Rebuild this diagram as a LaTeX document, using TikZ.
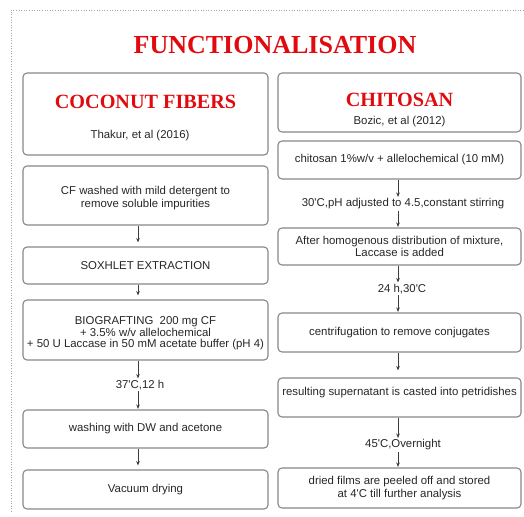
\documentclass[tikz,border=0pt]{standalone}
\usepackage{fontspec}
\setmainfont{Liberation Sans}
\newfontfamily\ttlfont{Liberation Serif}
\usetikzlibrary{arrows.meta}
\definecolor{ttlred}{RGB}{225,10,15}
\definecolor{boxgray}{RGB}{135,135,135}
\definecolor{arrgray}{RGB}{60,60,60}
\definecolor{framegray}{RGB}{165,165,165}
\begin{document}
\begin{tikzpicture}[x=1pt,y=-1pt,
  box/.style={draw=boxgray, line width=1.1pt, rounded corners=4pt, align=center, inner sep=0pt,
    font=\fontsize{11.4}{12.8}\selectfont, text=black!85},
  boxL/.style={box, minimum width=245pt},
  boxR/.style={box, minimum width=243pt},
  txt/.style={align=center, inner sep=1pt, font=\fontsize{11.4}{12.8}\selectfont, text=black!85},
  bigttl/.style={font=\ttlfont\bfseries\fontsize{26}{28}\selectfont, text=ttlred, inner sep=0pt},
  subttl/.style={font=\ttlfont\bfseries\fontsize{20.2}{22}\selectfont, text=ttlred, inner sep=0pt},
  arr/.style={draw=arrgray, line width=0.8pt, -{Stealth[length=4.5pt,width=3.6pt]}, shorten >=4pt},
  arrl/.style={arr, shorten >=0.5pt},
  framedots/.style={draw=framegray, line width=0.8pt, dash pattern=on 1pt off 1.6pt}
]
\useasboundingbox (0,0) rectangle (524,516);
% dotted frame
\coordinate (fTL) at (11,10);
\coordinate (fTR) at (524,10);
\coordinate (fBL) at (11,512);
\draw[framedots] (fBL) -- (fTL) -- (fTR);

% title
\node[bigttl] (title) at (275,45) {FUNCTIONALISATION};

% ---------- left column ----------
\node[boxL, minimum height=82pt] (hL) at (145.5,114) {};
\node[subttl] (hLt) at (145.5,101.5) {COCONUT FIBERS};
\node[txt] (hLc) at (140,136) {Thakur, et al (2016)};

\node[boxL, minimum height=59pt] (l1) at (145.5,195.5) {};
\node[txt] (l1t) at (145.5,198) {CF washed with mild detergent to\\remove soluble impurities};
\node[boxL, minimum height=37pt] (l2) at (145.5,265.5) {SOXHLET EXTRACTION};
\node[boxL, minimum height=60pt] (l3) at (145.5,330) {};
\node[txt, font=\fontsize{11.4}{11.6}\selectfont] (l3t) at (145.5,333.5) {BIOGRAFTING\ \ 200 mg CF\\+ 3.5\% w/v allelochemical\\+ 50 U Laccase in 50 mM acetate buffer (pH 4)};
\node[txt] (lab37) at (140,385) {37\textquotesingle C,12 h};
\node[boxL, minimum height=38pt] (l4) at (145.5,429) {washing with DW and acetone};
\node[boxL, minimum height=39pt] (l5) at (145.5,489.5) {Vacuum drying};

\draw[arr] ([xshift=-7.5pt]l1.south) -- ([xshift=-7.5pt]l2.north);
\draw[arr] ([xshift=-7.5pt]l2.south) -- ([xshift=-7.5pt]l3.north);
\draw[arrl] ([xshift=-7.5pt]l3.south) -- ([xshift=-7.5pt]l3.south |- lab37.north);
\draw[arrl] ([xshift=-7.5pt]l3.south |- lab37.south) -- ([xshift=-7.5pt]l4.north);
\draw[arr] ([xshift=-7.5pt]l4.south) -- ([xshift=-7.5pt]l5.north);

% ---------- right column ----------
\node[boxR, minimum height=59pt] (hR) at (399.5,102.5) {};
\node[subttl] (hRt) at (399.5,100) {CHITOSAN};
\node[txt] (hRc) at (399.5,122) {Bozic, et al (2012)};

\node[boxR, minimum height=38pt] (c1) at (399.5,160) {chitosan 1\%w/v + allelochemical (10 mM)};
\node[txt] (lab30) at (403,204) {30\textquotesingle C,pH adjusted to 4.5,constant stirring};
\node[boxR, minimum height=37pt] (c2) at (399.5,246.5) {After homogenous distribution of mixture,\\Laccase is added};
\node[txt] (lab24) at (402,289) {24 h,30\textquotesingle C};
\node[boxR, minimum height=39pt] (c3) at (399.5,332.5) {centrifugation to remove conjugates};
\node[boxR, minimum height=39pt] (c4) at (399.5,397.5) {};
\node[txt] (c4t) at (399.5,393) {resulting supernatant is casted into petridishes};
\node[txt] (lab45) at (403,445) {45\textquotesingle C,Overnight};
\node[boxR, minimum height=40pt] (c5) at (399.5,488) {dried films are peeled off and stored\\at 4\textquotesingle C till further analysis};

\draw[arrl] ([xshift=-1.5pt]c1.south) -- ([xshift=-1.5pt]c1.south |- lab30.north);
\draw[arrl] ([xshift=-1.5pt]c1.south |- lab30.south) -- ([xshift=-1.5pt]c2.north);
\draw[arrl] ([xshift=-1.5pt]c2.south) -- ([xshift=-1.5pt]c2.south |- lab24.north);
\draw[arrl] ([xshift=-1.5pt]c2.south |- lab24.south) -- ([xshift=-1.5pt]c3.north);
\draw[arr, shorten >=7pt] ([xshift=-1.5pt]c3.south) -- ([xshift=-1.5pt]c4.north);
\draw[arrl] ([xshift=-1.5pt]c4.south) -- ([xshift=-1.5pt]c4.south |- lab45.north);
\draw[arrl] ([xshift=-1.5pt]c4.south |- lab45.south) -- ([xshift=-1.5pt]c5.north);
\end{tikzpicture}
\end{document}
